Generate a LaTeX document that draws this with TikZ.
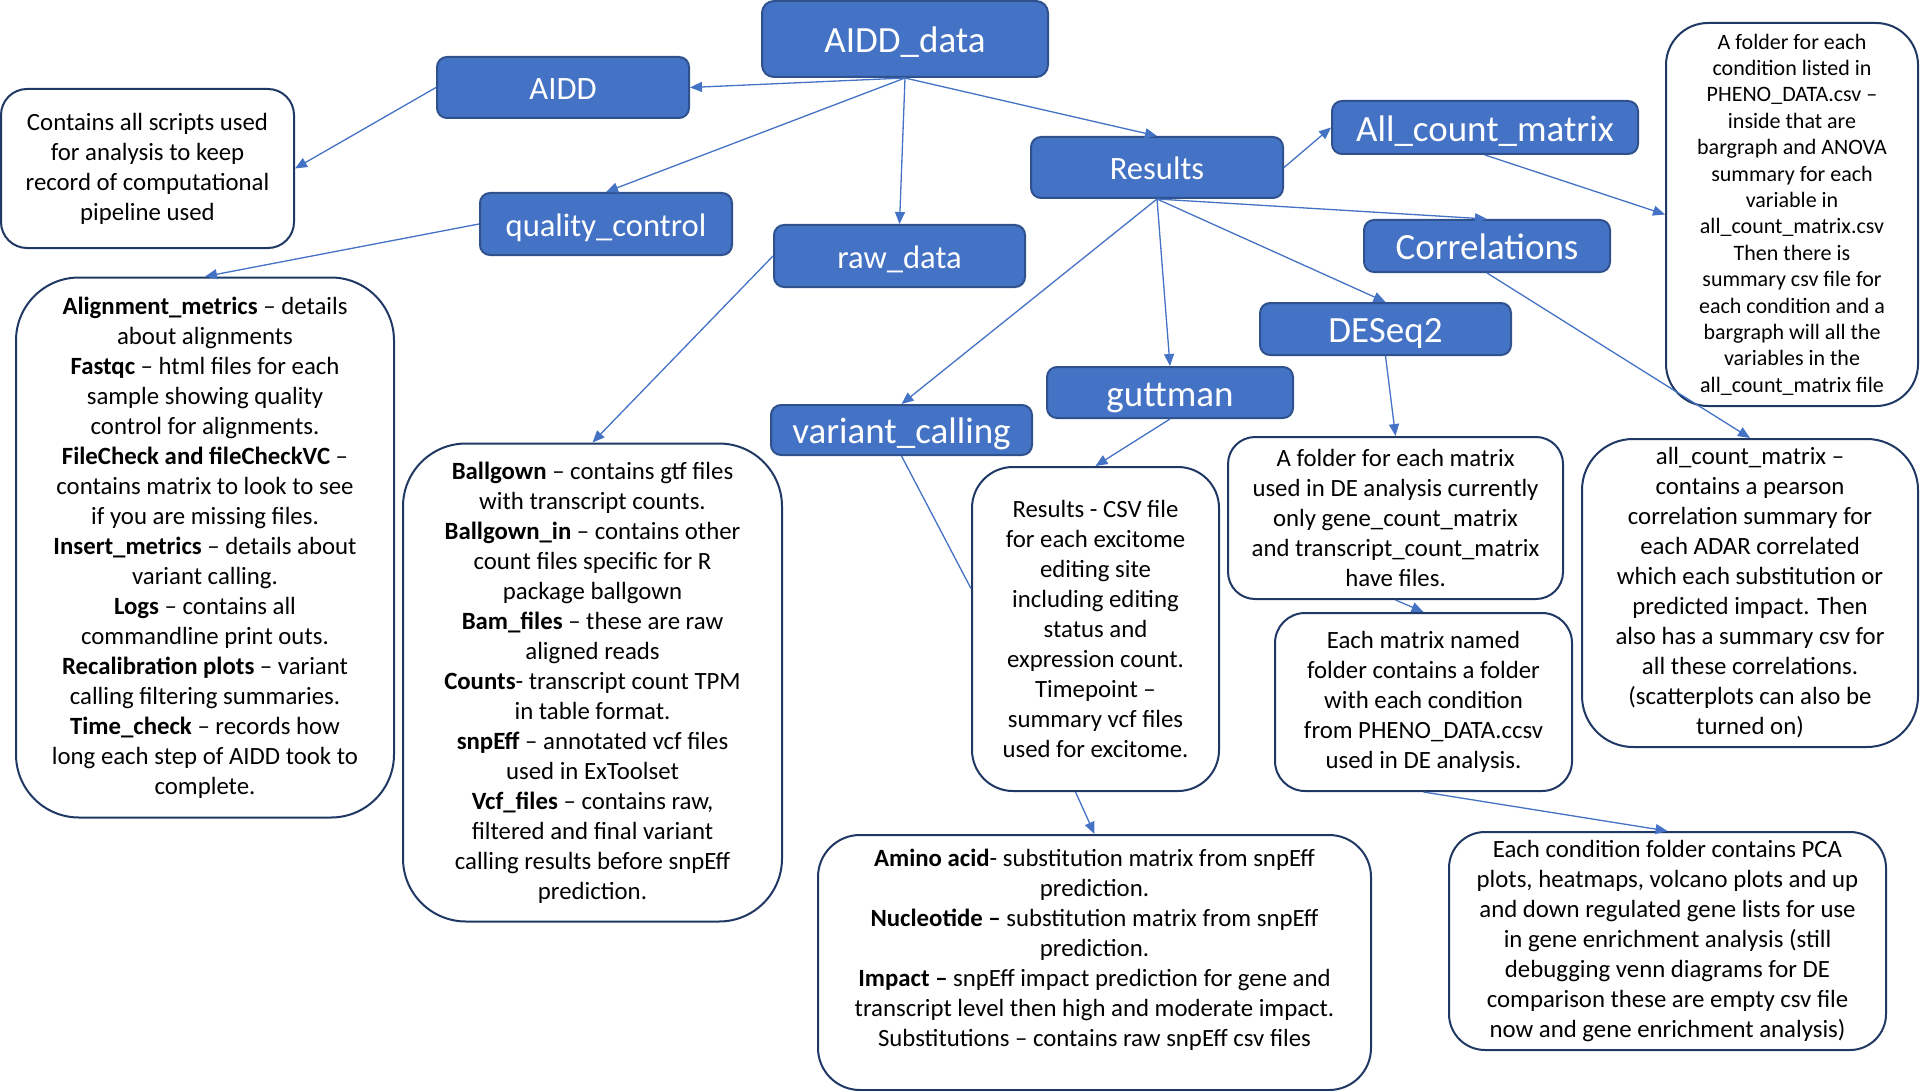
\documentclass[tikz,border=0pt]{standalone}
\usepackage{fontspec}
\setmainfont{Carlito}
\usepackage{tikz}
\usetikzlibrary{arrows.meta}
\definecolor{folderblue}{HTML}{4472C4}
\definecolor{folderedge}{HTML}{2F528F}
\definecolor{noteedge}{HTML}{1F3864}
\definecolor{linkblue}{HTML}{4472C4}

\begin{document}
\begin{tikzpicture}[x=0.5pt,y=-0.5pt,
  folder/.style={draw=folderedge,fill=folderblue,line width=1pt,rounded corners=5pt,text=white,inner sep=0pt,text depth=0pt},
  big/.style={font=\fontsize{18.5}{22}\selectfont,text height=13.6pt},
  small/.style={font=\fontsize{16.3}{20}\selectfont,text height=12.2pt},
  note/.style={draw=noteedge,fill=white,line width=1pt,align=center,inner sep=0pt,font=\fontsize{12.4}{15}\selectfont},
  link/.style={draw=linkblue,line width=0.65pt,-{Triangle[length=6pt,width=5pt]}},
  bare/.style={draw=linkblue,line width=0.65pt}]
\useasboundingbox (0,0) rectangle (1920,1091);

\node[folder,big,minimum width=143pt,minimum height=38pt,rounded corners=6pt] (data) at (905,39) {AIDD\_data};
\node[folder,small,minimum width=126pt,minimum height=30.5pt] (aidd) at (563,87.5) {AIDD};
\node[folder,small,minimum width=126pt,minimum height=31pt] (qc) at (606,224) {quality\_control};
\node[folder,small,minimum width=125.5pt,minimum height=31pt] (raw) at (899.5,256) {raw\_data};
\node[folder,small,minimum width=126pt,minimum height=30.5pt] (results) at (1157,167.5) {Results};
\node[folder,big,minimum width=153pt,minimum height=26.5pt] (allcount) at (1485,127.5) {All\_count\_matrix};
\node[folder,big,minimum width=123pt,minimum height=26pt] (corr) at (1487,246) {Correlations};
\node[folder,big,minimum width=125.5pt,minimum height=26pt] (deseq) at (1385.5,329) {DESeq2};
\node[folder,big,minimum width=123pt,minimum height=25.5pt] (gutt) at (1170,392.5) {guttman};
\node[folder,big,minimum width=130.5pt,minimum height=25pt] (vc) at (901.5,430) {variant\_calling};

\node[note,minimum width=146.5pt,minimum height=79.5pt,rounded corners=13pt] (scripts) at (147.5,168.5)
  {Contains all scripts used\\for analysis to keep\\record of computational\\pipeline used};
\node[note,minimum width=189pt,minimum height=270pt,rounded corners=31.5pt] (qcinfo) at (205,547.5)
  {\textbf{Alignment\_metrics} -- details\\
   about alignments\\
   \textbf{Fastqc} -- html files for each\\
   sample showing quality\\
   control for alignments.\\
   \textbf{FileCheck and fileCheckVC} --\\
   contains matrix to look to see\\
   if you are missing files.\\
   \textbf{Insert\_metrics} -- details about\\
   variant calling.\\
   \textbf{Logs} -- contains all\\
   commandline print outs.\\
   \textbf{Recalibration plots} -- variant\\
   calling filtering summaries.\\
   \textbf{Time\_check} -- records how\\
   long each step of AIDD took to\\
   complete.};
\node[note,minimum width=189.5pt,minimum height=239pt,rounded corners=31.5pt] (rawinfo) at (592.5,682.5)
  {\textbf{Ballgown} -- contains gtf files\\
   with transcript counts.\\
   \textbf{Ballgown\_in} -- contains other\\
   count files specific for R\\
   package ballgown\\
   \textbf{Bam\_files} -- these are raw\\
   aligned reads\\
   \textbf{Counts}- transcript count TPM\\
   in table format.\\
   \textbf{snpEff} -- annotated vcf files\\
   used in ExToolset\\
   \textbf{Vcf\_files} -- contains raw,\\
   filtered and final variant\\
   calling results before snpEff\\
   prediction.};
\node[note,minimum width=123.5pt,minimum height=162pt,rounded corners=20.5pt] (guttinfo) at (1095.5,629)
  {Results - CSV file\\
   for each excitome\\
   editing site\\
   including editing\\
   status and\\
   expression count.\\
   Timepoint --\\
   summary vcf files\\
   used for excitome.};
\node[note,minimum width=167.5pt,minimum height=81pt,rounded corners=13.5pt] (deseqinfo) at (1395.5,518)
  {A folder for each matrix\\
   used in DE analysis currently\\
   only gene\_count\_matrix\\
   and transcript\_count\_matrix\\
   have files.};
\node[note,minimum width=168pt,minimum height=154pt,rounded corners=25.5pt] (corrinfo) at (1750,593)
  {all\_count\_matrix --\\
   contains a pearson\\
   correlation summary for\\
   each ADAR correlated\\
   which each substitution or\\
   predicted impact. Then\\
   also has a summary csv for\\
   all these correlations.\\
   (scatterplots can also be\\
   turned on)};
\node[note,minimum width=148.5pt,minimum height=89pt,rounded corners=15pt] (matrixinfo) at (1423.5,702)
  {Each matrix named\\
   folder contains a folder\\
   with each condition\\
   from PHENO\_DATA.ccsv\\
   used in DE analysis.};
\node[note,minimum width=276.5pt,minimum height=127.5pt,rounded corners=21pt] (snpinfo) at (1094.5,962.5)
  {\textbf{Amino acid}- substitution matrix from snpEff\\
   prediction.\\
   \textbf{Nucleotide --} substitution matrix from snpEff\\
   prediction.\\
   \textbf{Impact --} snpEff impact prediction for gene and\\
   transcript level then high and moderate impact.\\
   Substitutions -- contains raw snpEff csv files\\
   \mbox{}};
\node[note,minimum width=218.5pt,minimum height=109pt,rounded corners=18pt] (condfolder) at (1667.5,941)
  {Each condition folder contains PCA\\
   plots, heatmaps, volcano plots and up\\
   and down regulated gene lists for use\\
   in gene enrichment analysis (still\\
   debugging venn diagrams for DE\\
   comparison these are empty csv file\\
   now and gene enrichment analysis)};
\node[note,font=\fontsize{11}{13.2}\selectfont,minimum width=126pt,minimum height=191.5pt,rounded corners=21pt] (condinfo) at (1792,214.5)
  {A folder for each\\
   condition listed in\\
   PHENO\_DATA.csv --\\
   inside that are\\
   bargraph and ANOVA\\
   summary for each\\
   variable in\\
   all\_count\_matrix.csv\\
   Then there is\\
   summary csv file for\\
   each condition and a\\
   bargraph will all the\\
   variables in the\\
   all\_count\_matrix file};

\draw[link] (data.south) -- (aidd.east);
\draw[link] (data.south) -- (qc.north);
\draw[link] (data.south) -- (raw.north);
\draw[link] (data.south) -- (results.north);
\draw[link] (aidd.west) -- (scripts.east);
\draw[link] (qc.west) -- (qcinfo.north);
\draw[link] (raw.west) -- (rawinfo.north);
\draw[link] (results.east) -- (allcount.west);
\draw[link] (allcount.south) -- (condinfo.west);
\draw[link] (results.south) -- (corr.north);
\draw[link] (results.south) -- (deseq.north);
\draw[link] (results.south) -- (gutt.north);
\draw[link] (results.south) -- (vc.north);
\draw[link] (corr.south) -- (corrinfo.north);
\draw[link] (deseq.south) -- (deseqinfo.north);
\draw[link] (gutt.south) -- (guttinfo.north);
\draw[bare] (vc.south) -- (guttinfo.162);
\draw[link] (deseqinfo.south) -- (matrixinfo.north);
\draw[link] ([xshift=-10pt]guttinfo.south) -- (snpinfo.north);
\draw[link] (matrixinfo.south) -- (condfolder.north);
\end{tikzpicture}
\end{document}
